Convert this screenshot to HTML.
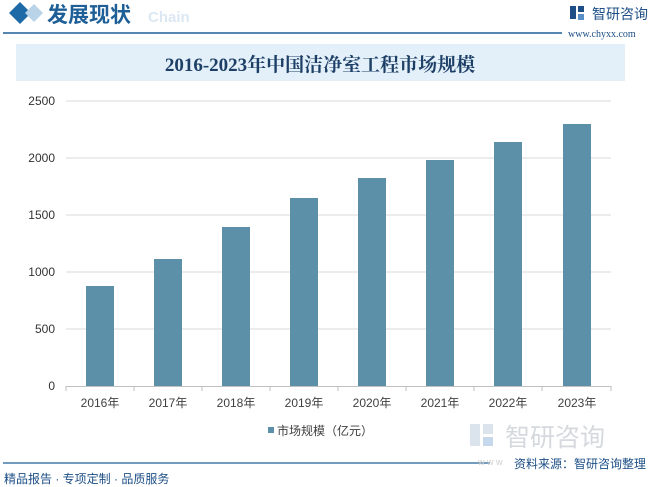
<!DOCTYPE html>
<html><head><meta charset="utf-8"><style>
body{margin:0;width:650px;height:487px;background:#fff;overflow:hidden;position:relative;font-family:"Liberation Sans","Noto Sans CJK SC",sans-serif}
.a{position:absolute}
</style></head><body>
<svg class="a" style="left:0;top:0" width="650" height="487">
<!-- header diamonds -->
<polygon points="20,2 31,13 20,24 9,13" fill="#1d6aa6"/>
<polygon points="34,4 43,13 34,22 25,13" fill="#b9d3e8"/>
<text x="148" y="22" font-size="15" font-weight="bold" fill="#dbe8f3" font-family="Liberation Sans,sans-serif">Chain</text>
<text x="47" y="22" font-size="21" font-weight="bold" fill="#1d5f96" font-family="Liberation Sans,Noto Sans CJK SC,sans-serif">发展现状</text>
<line x1="3" y1="33" x2="562" y2="33" stroke="#1d5f96" stroke-width="1.5"/>
<!-- logo -->
<rect x="570" y="6" width="6" height="13" fill="#1d4f86"/><rect x="578" y="6" width="6" height="6" fill="#1d4f86"/><rect x="578" y="14" width="6" height="6" fill="#5a8fc8"/>
<text x="592" y="19" font-size="14" fill="#1d4f86" font-family="Liberation Sans,Noto Sans CJK SC,sans-serif">智研咨询</text>
<text x="568" y="37" font-size="10" fill="#1d4f86" font-family="Liberation Serif,serif">www.chyxx.com</text>
<!-- title band -->
<rect x="16" y="44" width="486" height="1" fill="none"/>
<rect x="16" y="44" width="486" height="0" fill="none"/>
<rect x="16" y="44" width="486" height="37" fill="#e3f0f9"/>
<rect x="16" y="44" width="609" height="37" fill="#e3f0f9"/>
<text x="320" y="71" text-anchor="middle" font-size="19" font-weight="bold" fill="#1d3f66" font-family="Liberation Serif,Noto Serif CJK SC,serif">2016-2023年中国洁净室工程市场规模</text>
<!-- grid -->
<g stroke="#d9d9d9" stroke-width="1">
<line x1="66" y1="101" x2="611" y2="101"/><line x1="66" y1="158" x2="611" y2="158"/>
<line x1="66" y1="215" x2="611" y2="215"/><line x1="66" y1="272" x2="611" y2="272"/>
<line x1="66" y1="329" x2="611" y2="329"/>
</g>
<line x1="66" y1="386.5" x2="611" y2="386.5" stroke="#bfbfbf"/>
<g stroke="#bfbfbf">
<line x1="66" y1="386" x2="66" y2="391"/><line x1="134" y1="386" x2="134" y2="391"/><line x1="202" y1="386" x2="202" y2="391"/><line x1="270" y1="386" x2="270" y2="391"/><line x1="338" y1="386" x2="338" y2="391"/><line x1="406" y1="386" x2="406" y2="391"/><line x1="474" y1="386" x2="474" y2="391"/><line x1="542" y1="386" x2="542" y2="391"/><line x1="611" y1="386" x2="611" y2="391"/>
</g>
<g font-size="12" fill="#333" text-anchor="end" font-family="Liberation Sans,sans-serif">
<text x="55" y="105">2500</text><text x="55" y="162">2000</text><text x="55" y="219">1500</text><text x="55" y="276">1000</text><text x="55" y="333">500</text><text x="55" y="390">0</text>
</g>
<g fill="#5b90a8">
<rect x="86" y="286" width="28" height="100"/>
<rect x="154" y="259" width="28" height="127"/>
<rect x="222" y="227" width="28" height="159"/>
<rect x="290" y="198" width="28" height="188"/>
<rect x="358" y="178" width="28" height="208"/>
<rect x="426" y="160" width="28" height="226"/>
<rect x="494" y="142" width="28" height="244"/>
<rect x="563" y="124" width="28" height="262"/>
</g>
<g font-size="12" fill="#404040" text-anchor="middle" font-family="Liberation Sans,Noto Sans CJK SC,sans-serif">
<text x="100" y="407">2016年</text><text x="168" y="407">2017年</text><text x="236" y="407">2018年</text><text x="304" y="407">2019年</text><text x="372" y="407">2020年</text><text x="440" y="407">2021年</text><text x="508" y="407">2022年</text><text x="577" y="407">2023年</text>
</g>
<rect x="268" y="427" width="6" height="6" fill="#5b90a8"/>
<text x="277" y="435" font-size="12" fill="#404040" font-family="Liberation Sans,Noto Sans CJK SC,sans-serif">市场规模（亿元）</text>
<!-- bottom watermark logo -->
<rect x="470" y="424" width="10" height="22" fill="#dbe3ec"/><rect x="483" y="424" width="10" height="10" fill="#dbe3ec"/><rect x="483" y="437" width="10" height="9" fill="#c5d8ec"/>
<text x="505" y="446" font-size="25" fill="#d5d9de" font-family="Liberation Sans,Noto Sans CJK SC,sans-serif">智研咨询</text>
<line x1="3" y1="463" x2="490" y2="463" stroke="#1d5f96" stroke-width="1.2"/>
<text x="478" y="465" font-size="9" fill="#ccc" font-family="Liberation Sans,sans-serif">w w w</text>
<text x="646" y="468" text-anchor="end" font-size="12" fill="#1d4f86" font-family="Liberation Sans,Noto Sans CJK SC,sans-serif">资料来源：智研咨询整理</text>
<text x="4" y="483" font-size="12" fill="#1d4f86" font-family="Liberation Sans,Noto Sans CJK SC,sans-serif">精品报告 · 专项定制 · 品质服务</text>
</svg>
</body></html>
